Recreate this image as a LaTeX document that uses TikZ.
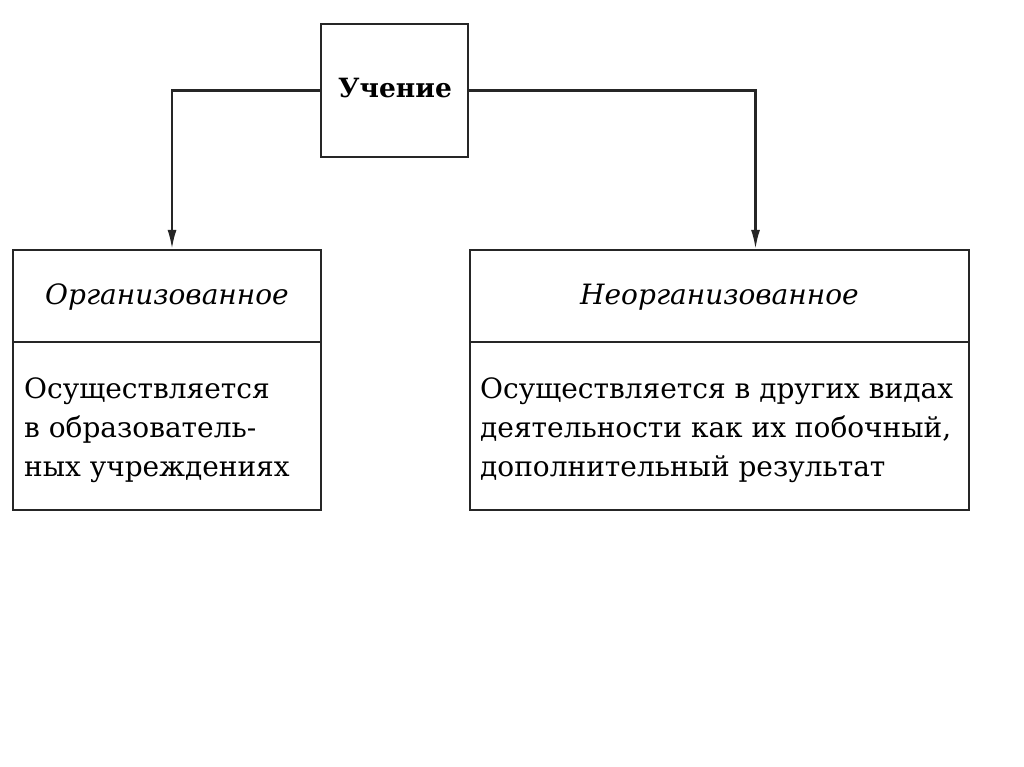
\documentclass[tikz,border=0pt]{standalone}
\usepackage{fontspec}
\setmainfont{DejaVu Serif}
\usetikzlibrary{arrows.meta,positioning}
\begin{document}
\begin{tikzpicture}[x=1pt,y=-1pt,
  boxstyle/.style={draw=black!85,line width=2.2pt,rectangle,inner sep=0pt},
  headtext/.style={font=\fontsize{28}{34}\selectfont\itshape},
  bodytext/.style={font=\fontsize{28}{39}\selectfont,align=left,inner sep=0pt},
  arr/.style={draw=black!85,line width=2.2pt,-{Latex[length=19pt,width=9pt]}}]
\useasboundingbox[fill=white] (0,0) rectangle (1024,767);
\node[boxstyle,minimum width=147pt,minimum height=133pt] (u) at (394.5,90.5) {};
\node[font=\fontsize{26.5}{34}\selectfont\bfseries] (ut) at (395,88) {Учение};
% left
\node[boxstyle,minimum width=308pt,minimum height=92pt] (lh) at (167,296) {};
\node[headtext] (lht) at (167,297) {Организованное};
\node[boxstyle,minimum width=308pt,minimum height=168pt] (lb) at (167,426) {};
\node[bodytext,anchor=west] (lbt) at (24,430) {Осуществляется\\в образователь-\\ных учреждениях};
% right
\node[boxstyle,minimum width=499pt,minimum height=92pt] (rh) at (719.5,296) {};
\node[headtext] (rht) at (719.5,297) {Неорганизованное};
\node[boxstyle,minimum width=499pt,minimum height=168pt] (rb) at (719.5,426) {};
\node[bodytext,anchor=west] (rbt) at (480,430) {Осуществляется в других видах\\деятельности как их побочный,\\дополнительный результат};
% connectors
\draw[arr] (u.west) -| ([xshift=5pt]lh.north);
\draw[arr] (u.east) -| ([xshift=36pt]rh.north);
\end{tikzpicture}
\end{document}
